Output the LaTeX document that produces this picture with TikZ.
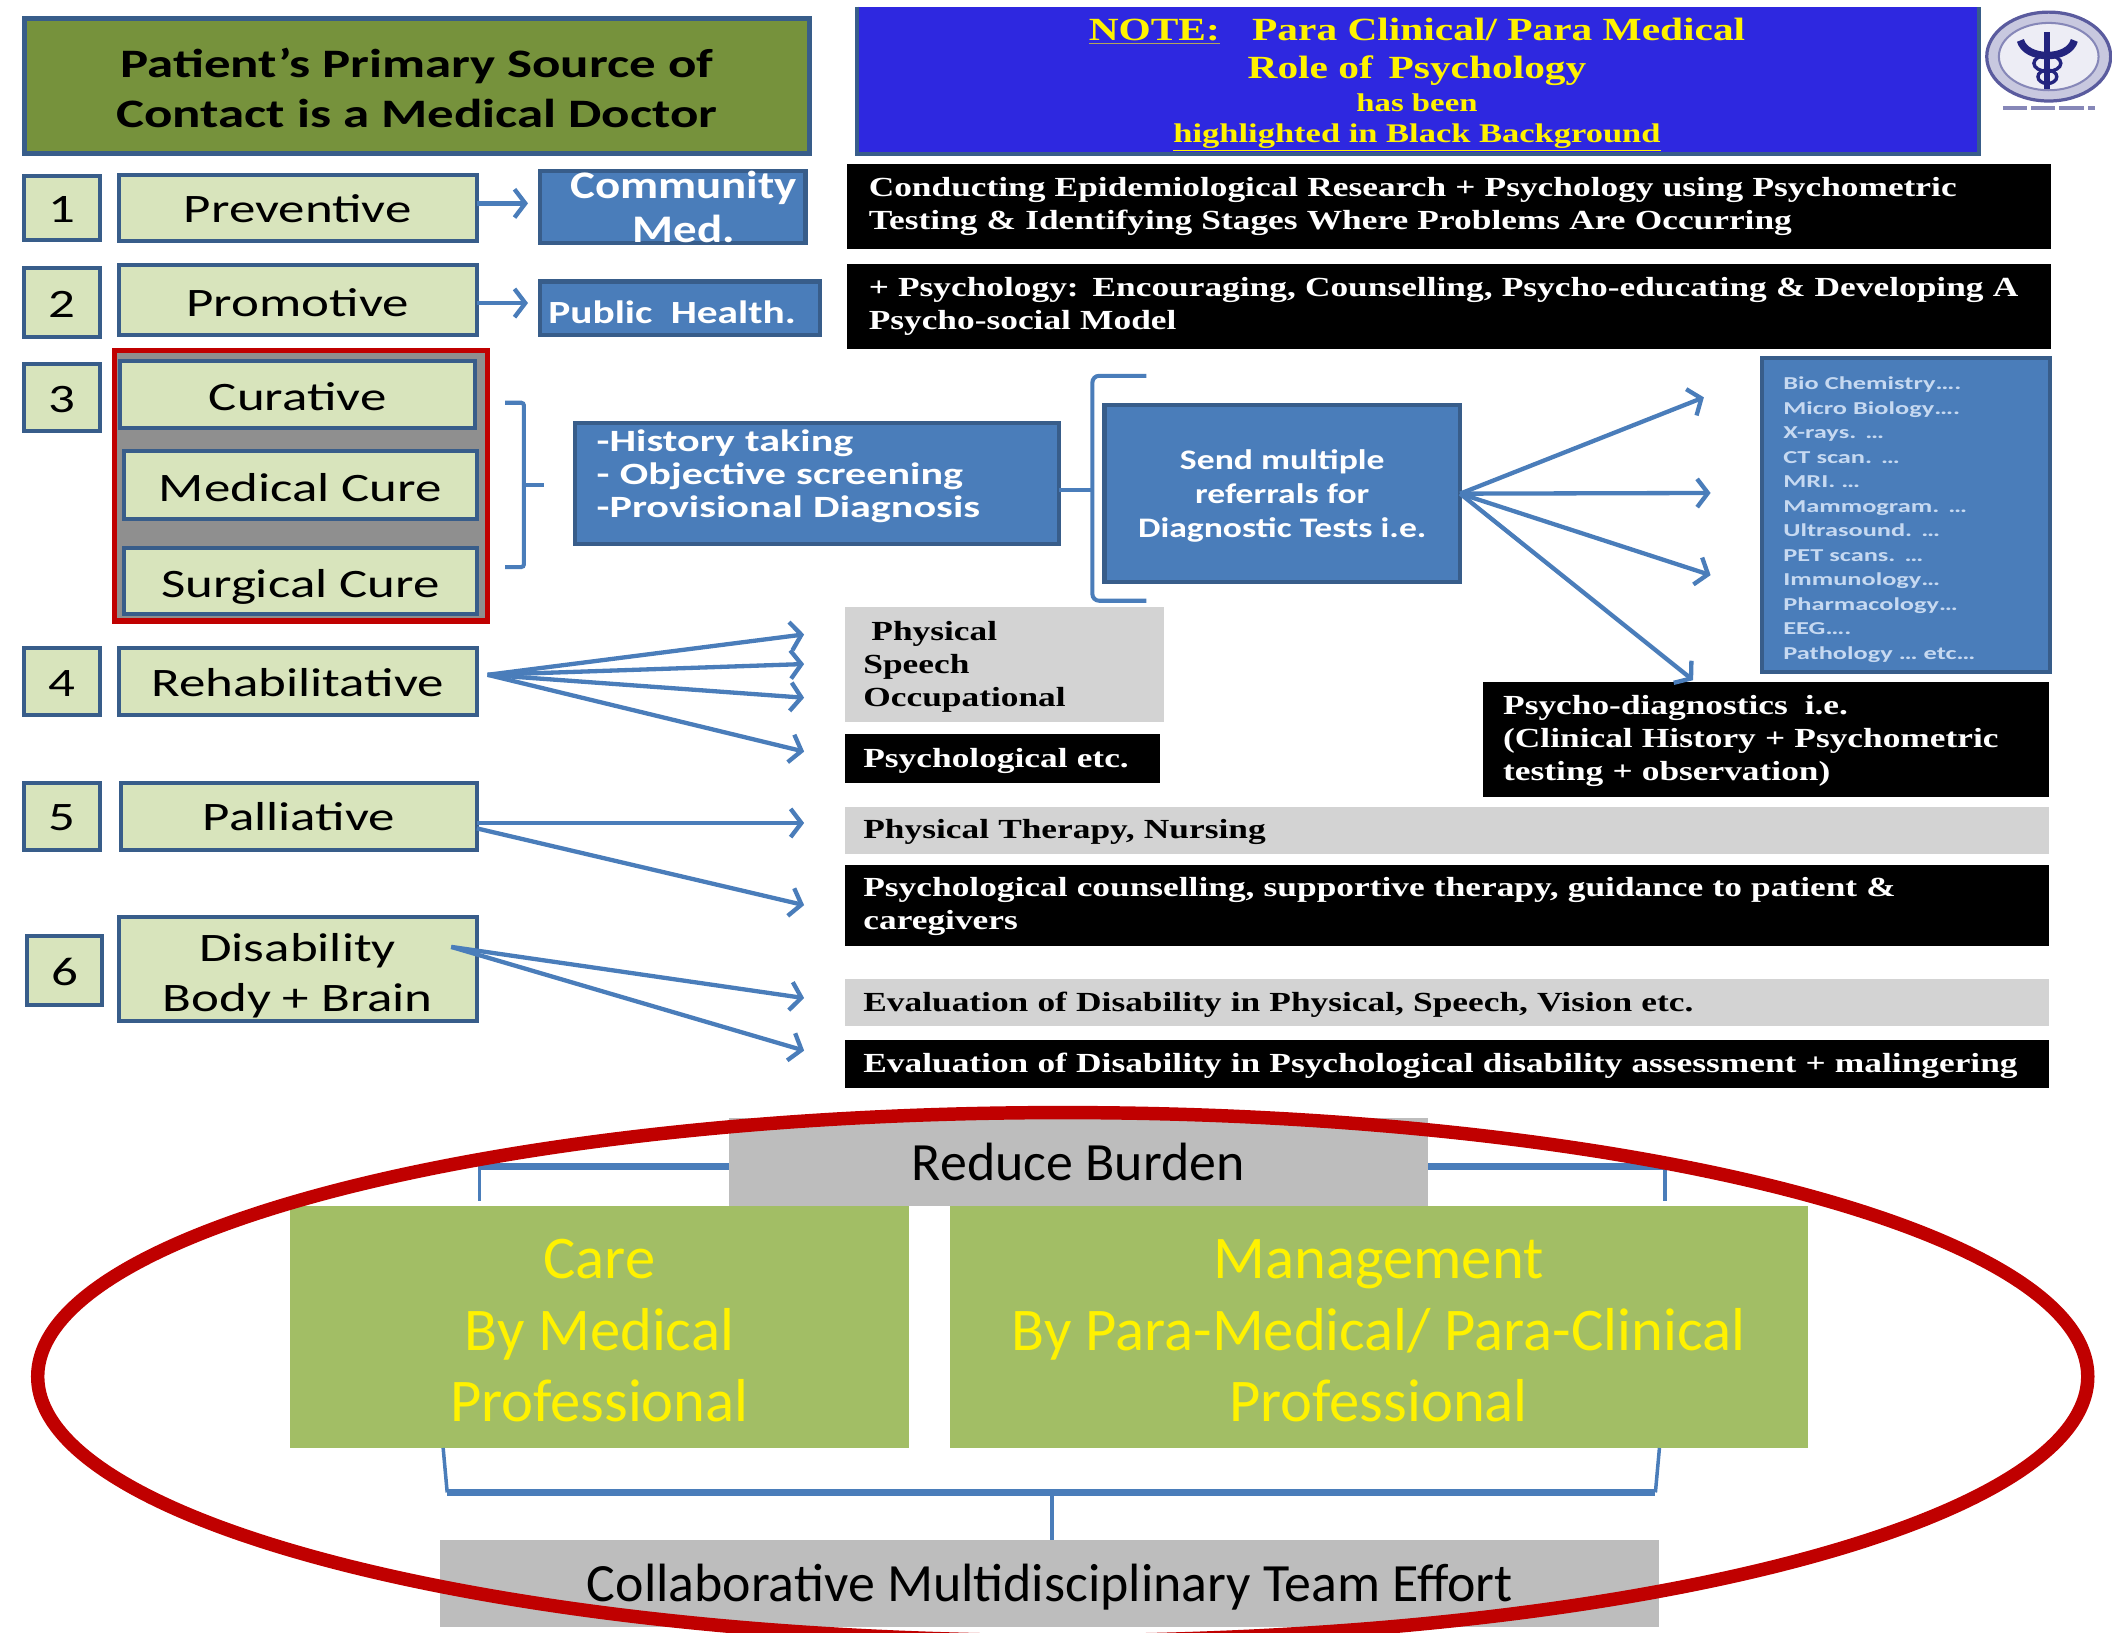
\documentclass[tikz,border=0pt]{standalone}
\usepackage{fontspec}
\usetikzlibrary{arrows.meta}
\setmainfont{Carlito}
\newfontfamily\cw[FakeStretch=1.31]{Carlito}
\newfontfamily\cwa[FakeStretch=1.2]{Carlito}
\newfontfamily\cwb[FakeStretch=1.28]{Carlito}
\newfontfamily\cwc[FakeStretch=1.36]{Carlito}
\newfontfamily\cwd[FakeStretch=1.26]{Carlito}
\newfontfamily\cwe[FakeStretch=1.45]{Carlito}
\newfontfamily\sw[FakeStretch=1.28]{Liberation Serif}
\definecolor{bord}{HTML}{385D8A}
\definecolor{lime}{HTML}{D8E4BC}
\definecolor{olivebox}{HTML}{76923C}
\definecolor{bluebox}{HTML}{4A7DBA}
\definecolor{notebl}{HTML}{2E28E0}
\definecolor{lgrey}{HTML}{D3D3D3}
\definecolor{mgrey}{HTML}{BDBDBD}
\definecolor{dgrey}{HTML}{8F8F8F}
\definecolor{redc}{HTML}{C00000}
\definecolor{careg}{HTML}{A2BE65}
\definecolor{navy}{HTML}{23247E}
\definecolor{paleb}{HTML}{C6D9F1}
\definecolor{undercol}{HTML}{B3A55A}
\tikzset{
 bxbase/.style={inner sep=0pt,outer sep=0pt,align=center},
 limebox/.style={bxbase,draw=bord,line width=3pt,fill=lime,text=black,font=\cw\fontsize{30}{37}\selectfont},
 bluenode/.style={bxbase,draw=bord,line width=3pt,fill=bluebox,text=white,font=\cw\bfseries},
 blackbox/.style={bxbase,fill=black,text=white,font=\sw\bfseries\fontsize{20.5}{24.5}\selectfont},
 greybox/.style={bxbase,fill=lgrey,text=black,font=\sw\bfseries\fontsize{20.5}{24.5}\selectfont},
 conn/.style={draw=bluebox,line width=3.2pt,-{Straight Barb[length=8pt,width=21pt,line width=3.2pt]}},
 brace/.style={draw=bluebox,line width=3pt,rounded corners=5pt},
 heavy/.style={draw=bluebox,line width=5.5pt},
 slim/.style={draw=bluebox,line width=2.6pt},
 bigtxt/.style={bxbase,fill=careg,text=yellow,font=\fontsize{45}{53}\selectfont},
 burden/.style={bxbase,fill=mgrey,text=black,font=\fontsize{40}{44}\selectfont},
}
% [style]{name}{x1}{y1}{x2}{y2}{text}
\newcommand\bx[7][]{\node[#1,minimum width={#5-#3},minimum height={#6-#4}] (#2) at ({(#3+#5)/2},{(#4+#6)/2}) {#7};}
% left-set variant, [style]{name}{x1}{y1}{x2}{y2}{pad}{text}
\newcommand\bxl[8][]{\node[#1,inner xsep=#7pt,align=left,text width={#5-#3-2*#7},minimum height={#6-#4}] (#2) at ({(#3+#5)/2},{(#4+#6)/2}) {#8};}
\newcommand\tp[1]{\rule{0pt}{#1pt}}
\begin{document}
\begin{tikzpicture}[x=1pt,y=-1pt]
\useasboundingbox (0,0) rectangle (1568,1212);
\clip (0,0) rectangle (1568,1212);
% ---- header
\bx[bxbase,draw=bord,line width=3.5pt,fill=olivebox,font=\cw\bfseries\fontsize{30}{37}\selectfont]{title}{18}{14}{601}{114}{\tp{24}Patient’s Primary Source of\\Contact is a Medical Doctor}
\fill[notebl] (636,5) rectangle (1469,115);
\draw[bord,line width=3pt] (636,5) -- (636,114) -- (1469,114) -- (1469,5);
\node[bxbase,inner sep=0pt,text=yellow,font=\sw\bfseries] (note) at (1052,63) {%
 \fontsize{24}{29}\selectfont{\color{undercol}\underline{\color{yellow}NOTE:}}\quad Para Clinical/ Para Medical\\[8pt]
 \fontsize{24}{27}\selectfont Role of\, Psychology\\[5pt]
 \fontsize{19}{24}\selectfont has been\\[8pt]
 \fontsize{20}{24}\selectfont\underline{highlighted in Black Background}};
% ---- logo
\draw[navy!75,line width=2.4pt,fill=navy!25] (1521,42) ellipse [x radius=46,y radius=33];
\draw[navy!55,line width=1.5pt,fill=navy!8] (1521,42) ellipse [x radius=37,y radius=25];
\draw[navy,line width=5.5pt] (1500,30) .. controls (1504,45) and (1536,45) .. (1540,30);
\draw[navy,line width=4.5pt] (1520,24) -- (1520,66);
\draw[navy,line width=2.5pt] (1520,47) ellipse [x radius=10,y radius=6];
\draw[navy,line width=2.5pt] (1520,57) ellipse [x radius=7,y radius=5];
\draw[navy!55,line width=3pt,dash pattern=on 18pt off 3pt] (1487,80) -- (1555,80);
% ---- number boxes and stages
\bx[limebox]{n1}{18}{131}{74}{178}{\tp{21}1}
\bx[limebox]{prev}{88}{130}{354}{179}{\tp{22}Preventive}
\bx[bluenode,font=\cwa\bfseries\fontsize{29}{31}\selectfont]{comm}{401}{127}{598}{180}{\hspace*{16pt}\raisebox{2pt}{Community}\\\hspace*{16pt}Med.}
\bx[limebox]{n2}{18}{199}{74}{250}{\tp{22}2}
\bx[limebox]{prom}{88}{197}{354}{249}{\tp{24}Promotive}
\bx[bluenode,font=\cwb\bfseries\fontsize{24}{28}\selectfont]{pub}{401}{209}{609}{249}{\tp{22}Public\; Health.\hspace*{12pt}}
\bx[limebox]{n3}{18}{270}{74}{320}{\tp{22}3}
\draw[redc,line width=4pt,fill=dgrey] (85,260) rectangle (362,461);
\bx[limebox]{cur}{89}{268}{353}{318}{\tp{24}Curative}
\bx[limebox]{med}{92}{335}{354}{385}{\tp{25}Medical Cure}
\bx[limebox]{sur}{92}{407}{354}{456}{\tp{30}Surgical Cure}
\bx[limebox]{n4}{18}{481}{74}{531}{\tp{22}4}
\bx[limebox]{reh}{88}{481}{354}{531}{\tp{22}Rehabilitative}
\bx[limebox]{n5}{18}{581}{74}{631}{\tp{22}5}
\bx[limebox]{pal}{90}{581}{354}{631}{\tp{22}Palliative}
\bx[limebox]{n6}{20}{695}{76}{746}{\tp{22}6}
\bx[limebox]{dis}{88}{681}{354}{758}{\tp{30}Disability\\Body + Brain}
% ---- blue middle boxes
\bxl[bluenode,font=\cwc\bfseries\fontsize{23}{24.5}\selectfont]{hist}{427}{314}{786}{404}{16}{-History taking\\\hspace*{0pt}- Objective screening\\-Provisional Diagnosis\rule[-14pt]{0pt}{0pt}}
\bx[bluenode,font=\cwd\bfseries\fontsize{21}{25}\selectfont]{send}{820}{301}{1084}{432}{\tp{18}Send multiple\\referrals for\\Diagnostic Tests i.e.}
\bxl[bluenode,font=\cwe\bfseries\fontsize{13.5}{18.2}\selectfont,text=paleb]{tests}{1308}{266}{1522}{499}{16}{\tp{16}Bio Chemistry….\\Micro Biology….\\X-rays. …\\CT scan. …\\MRI. …\\Mammogram. …\\Ultrasound. …\\PET scans. …\\Immunology…\\Pharmacology…\\EEG….\\Pathology … etc…}
% ---- black and grey text boxes
\bxl[blackbox]{b1}{629}{122}{1523}{185}{16}{\mbox{Conducting Epidemiological Research + Psychology using Psychometric}\\Testing \& Identifying Stages Where Problems Are Occurring}
\bxl[blackbox]{b2}{629}{196}{1523}{259}{16}{\mbox{+ Psychology: Encouraging, Counselling, Psycho-educating \& Developing A}\\Psycho-social Model}
\bxl[blackbox]{b3}{1101}{506}{1521}{592}{15}{\tp{17}Psycho-diagnostics\; i.e.\\(Clinical History + Psychometric\\testing + observation)}
\bxl[greybox]{g1}{627}{451}{864}{536}{14}{\tp{18}\hspace*{6pt}Physical\\Speech\\Occupational}
\bxl[blackbox]{b4}{627}{545}{861}{581}{14}{\tp{18}Psychological etc.}
\bxl[greybox]{g2}{627}{599}{1521}{634}{14}{\tp{17}Physical Therapy, Nursing}
\bxl[blackbox]{b5}{627}{642}{1521}{702}{14}{\mbox{\tp{16}Psychological counselling, supportive therapy, guidance to patient \&}\\caregivers}
\bxl[greybox]{g3}{627}{727}{1521}{762}{14}{\tp{18}Evaluation of Disability in Physical, Speech, Vision etc.}
\bxl[blackbox]{b6}{627}{772}{1521}{808}{14}{\mbox{\tp{17}Evaluation of Disability in Psychological disability assessment + malingering}}
% ---- arrow ends
\coordinate (a1) at (392,151);
\coordinate (a2) at (392,225);
\coordinate (s1) at (1265,295);
\coordinate (s2) at (1270,366);
\coordinate (s3) at (1270,427);
\coordinate (s4) at (1257,505);
\coordinate (r1) at (597,471);
\coordinate (r2) at (597,493);
\coordinate (r3) at (597,518);
\coordinate (r4) at (597,558);
\coordinate (p1) at (597,611);
\coordinate (p2) at (597,672);
\coordinate (d1) at (597,741);
\coordinate (d2) at (597,780);
\draw[conn] (prev.east |- a1) -- (a1);
\draw[conn] (prom.east |- a2) -- (a2);
\foreach \t in {s1,s2,s3,s4} \draw[conn] (send.east) -- (\t);
\foreach \t in {r1,r2,r3,r4} \draw[conn] ([xshift=8pt,yshift=5pt]reh.east) -- (\t);
\draw[conn] ([yshift=-5pt]pal.east) -- (p1);
\draw[conn] ([yshift=-9pt]pal.east) -- (p2);
\foreach \t in {d1,d2} \draw[conn] ([xshift=-19pt,yshift=16.5pt]dis.east) -- (\t);
% ---- brackets in the middle
\coordinate (ra) at (375,299);
\coordinate (rb) at (375,421);
\coordinate (rc) at (404,360);
\draw[brace,rounded corners=2pt] (ra) -- (389,299) -- (389,421) -- (rb);
\draw[brace] (389,360) -- (rc);
\coordinate (la) at (851,279);
\coordinate (lb) at (851,446);
\draw[brace] (la) -- (811,279) -- (811,446) -- (lb);
\draw[brace] (811,364) -- (hist.east |- 811,364);
% ---- lower panel
\coordinate (tl) at (356,866);
\coordinate (tr) at (1236,866);
\coordinate (bl) at (332,1108);
\coordinate (br) at (1229,1108);
\draw[heavy] (tl) -- (tr);
\draw[slim] (tl) -- (356,892);
\draw[slim] (tr) -- (1236,892);
\bx[burden]{reduce}{541}{830}{1060}{895}{Reduce Burden}
\bx[bigtxt]{care}{215}{895}{675}{1075}{\tp{35}Care\\By Medical\\Professional}
\bx[bigtxt]{mgmt}{705}{895}{1342}{1075}{\tp{35}Management\\By Para-Medical/ Para-Clinical\\Professional}
\bx[burden]{collab}{327}{1143}{1232}{1208}{\tp{34}Collaborative Multidisciplinary Team Effort}
\draw[heavy] (bl) -- (br);
\draw[slim] (bl) -- (329,1075);
\draw[slim] (br) -- (1232,1075);
\draw[draw=bluebox,line width=3.5pt] (781,1106) -- (collab.north -| 781,1106);
\draw[redc,line width=10pt] (789,1022) ellipse [x radius=761,y radius=196];
\end{tikzpicture}
\end{document}
